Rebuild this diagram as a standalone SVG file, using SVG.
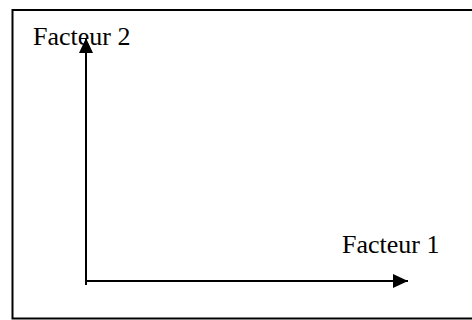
<svg xmlns="http://www.w3.org/2000/svg" width="472" height="320" viewBox="0 0 472 320">
<style>
.lbl{font-family:"Liberation Serif","Times New Roman",serif;font-size:26px;fill:#000}
.ax{stroke:#000;stroke-width:2;fill:none}
</style>
<defs>
<marker id="ah" markerWidth="16" markerHeight="14" refX="15" refY="7" orient="auto" markerUnits="userSpaceOnUse">
<path d="M0,0 L15,7 L0,14 Z" fill="#000"/>
</marker>
</defs>
<rect x="0" y="0" width="472" height="320" fill="#fff"/>
<rect x="12.5" y="10" width="470" height="308.5" fill="none" stroke="#000" stroke-width="2"/>
<g id="connectors">
<line class="ax" x1="86" y1="285" x2="86" y2="38" marker-end="url(#ah)"/>
<line class="ax" x1="86" y1="281" x2="408" y2="281" marker-end="url(#ah)"/>
</g>
<g id="facteur2"><text class="lbl" x="33" y="45">Facteur 2</text></g>
<g id="facteur1"><text class="lbl" x="342" y="253">Facteur 1</text></g>
</svg>
